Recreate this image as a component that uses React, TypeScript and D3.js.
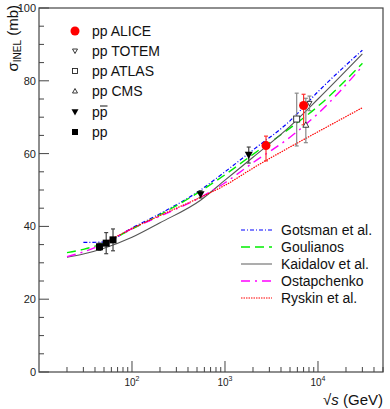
import React from "react";
import * as d3 from "d3";

// model curves: sqrt(s) in GeV, sigma_INEL in mb (null = curve not drawn there)
const modelEnergies = [20, 30, 50, 100, 200, 546, 1000, 2000, 5000, 10000, 30000];
const gotsman = [null, 35.6, 35.7, 39.6, 43.5, 50.0, 55.0, 61.0, 69.0, 77.0, 88.4];
const goulianos = [32.8, 33.7, 35.4, 39.3, 43.2, 49.7, 54.2, 59.8, 67.0, 73.0, 84.8];
const kaidalov = [31.5, 32.4, 34.0, 37.0, 41.0, 47.2, 52.7, 59.0, 67.5, 75.0, 87.4];
const ostapchenko = [31.7, 33.0, 35.3, 39.4, 42.8, 48.0, 52.0, 57.5, 64.5, 71.0, 84.0];
const ryskin = [null, null, 35.4, 39.4, 43.0, 48.0, 51.3, 56.0, 61.8, 66.0, 72.6];

// measurements
const aliceE = [2760, 7000];
const aliceS = [62.2, 73.2];
const aliceUp = [2.6, 3.1];
const aliceDn = [4.2, 5.3];

const totemE = [8100];
const totemS = [73.8];
const totemErr = [2.0];

const atlasE = [5900];
const atlasS = [69.5];
const atlasUp = [7.1];
const atlasDn = [7.4];

const cmsE = [7400];
const cmsS = [67.9];
const cmsUp = [7.3];
const cmsDn = [4.9];

const ppbarE = [546, 1800];
const ppbarS = [48.8, 59.6];
const ppbarErr = [1.0, 2.2];

const ppE = [44.7, 52.8, 62.5];
const ppS = [34.4, 35.4, 36.3];
const ppErr = [1.0, 2.9, 3.0];

const xTickLabels = [100, 1000, 10000];
const yTickLabels = [0, 20, 40, 60, 80, 100];

const FONT = "'Liberation Sans', Arial, Helvetica, sans-serif";

const frame = { left: 39, top: 8, right: 383, bottom: 372 };

const x = d3.scaleLog().domain([10, 5e4]).range([frame.left, frame.right]);
const y = d3.scaleLinear().domain([0, 100]).range([frame.bottom, frame.top]);

const models = [
  { name: "Gotsman et al.", values: gotsman, color: "#0000ff", dash: "4,2,1,2", width: 1.2 },
  { name: "Goulianos", values: goulianos, color: "#00ee00", dash: "9,5", width: 1.4 },
  { name: "Kaidalov et al.", values: kaidalov, color: "#555555", dash: null, width: 1.1 },
  { name: "Ostapchenko", values: ostapchenko, color: "#ff00ff", dash: "9,5,2,5", width: 1.4 },
  { name: "Ryskin et al.", values: ryskin, color: "#ff0000", dash: "1.5,1", width: 1.2 },
];

const Marker = ({ type, cx, cy, s }: { type: string; cx: number; cy: number; s: number }) => {
  const h = s / 2;
  if (type === "circle") return <circle cx={cx} cy={cy} r={h} fill="#ff0000" />;
  if (type === "square") return <rect x={cx - h} y={cy - h} width={s} height={s} fill="#000" />;
  if (type === "osquare")
    return <rect x={cx - h} y={cy - h} width={s} height={s} fill="#fff" stroke="#222" strokeWidth={0.9} />;
  if (type === "tridown")
    return <path d={`M${cx - h},${cy - h * 0.8}L${cx + h},${cy - h * 0.8}L${cx},${cy + h}Z`} fill="#000" />;
  if (type === "otridown")
    return (
      <path d={`M${cx - h},${cy - h * 0.8}L${cx + h},${cy - h * 0.8}L${cx},${cy + h}Z`} fill="#fff" stroke="#222" strokeWidth={0.9} />
    );
  if (type === "otriup")
    return (
      <path d={`M${cx - h},${cy + h * 0.8}L${cx + h},${cy + h * 0.8}L${cx},${cy - h}Z`} fill="#fff" stroke="#222" strokeWidth={0.9} />
    );
  return null;
};

const ErrorBar = ({ e, v, up, dn, color }: { e: number; v: number; up: number; dn: number; color: string }) => {
  const cx = x(e);
  const y1 = y(v + up);
  const y2 = y(v - dn);
  return (
    <g stroke={color} strokeWidth={1.2}>
      <line x1={cx} x2={cx} y1={y1} y2={y2} />
      <line x1={cx - 2} x2={cx + 2} y1={y1} y2={y1} />
      <line x1={cx - 2} x2={cx + 2} y1={y2} y2={y2} />
    </g>
  );
};

export default function App() {
  const line = (vals: (number | null)[]) =>
    d3
      .line<number>()
      .defined((_, i) => vals[i] !== null)
      .x((e) => x(e))
      .y((_, i) => y(vals[i] as number))
      .curve(d3.curveMonotoneX)(modelEnergies);

  // log axis ticks
  const minorX: number[] = [];
  for (let dec = 10; dec <= 1e4; dec *= 10) {
    for (let m = 1; m <= 9; m++) {
      const v = dec * m;
      if (v > 10 && v <= 5e4 && !xTickLabels.includes(v)) minorX.push(v);
    }
  }
  const minorY = d3.range(5, 100, 5).filter((v) => v % 20 !== 0);

  const legendData = [
    { label: "pp ALICE", type: "circle", s: 9 },
    { label: "pp TOTEM", type: "otridown", s: 5 },
    { label: "pp ATLAS", type: "osquare", s: 5 },
    { label: "pp CMS", type: "otriup", s: 5 },
    { label: "pp", type: "tridown", s: 7 },
    { label: "pp", type: "square", s: 6 },
  ];
  const legendY = [31, 51, 71, 91, 112, 132];

  return (
    <svg width={390} height={409} style={{ display: "block", position: "absolute", left: 0, top: 0 }} fontFamily={FONT}>
      <rect width={390} height={409} fill="#fff" />

      {/* model curves */}
      {models.map((m) => (
        <path
          key={m.name}
          d={line(m.values) || ""}
          fill="none"
          stroke={m.color}
          strokeWidth={m.width}
          strokeDasharray={m.dash || undefined}
        />
      ))}

      {/* error bars */}
      {ppE.map((e, i) => (
        <ErrorBar key={"pp" + i} e={e} v={ppS[i]} up={ppErr[i]} dn={ppErr[i]} color="#444" />
      ))}
      {ppbarE.map((e, i) => (
        <ErrorBar key={"pb" + i} e={e} v={ppbarS[i]} up={ppbarErr[i]} dn={ppbarErr[i]} color="#444" />
      ))}
      {atlasE.map((e, i) => (
        <ErrorBar key={"at" + i} e={e} v={atlasS[i]} up={atlasUp[i]} dn={atlasDn[i]} color="#888" />
      ))}
      {cmsE.map((e, i) => (
        <ErrorBar key={"cm" + i} e={e} v={cmsS[i]} up={cmsUp[i]} dn={cmsDn[i]} color="#888" />
      ))}
      {totemE.map((e, i) => (
        <ErrorBar key={"to" + i} e={e} v={totemS[i]} up={totemErr[i]} dn={totemErr[i]} color="#888" />
      ))}
      {aliceE.map((e, i) => (
        <ErrorBar key={"al" + i} e={e} v={aliceS[i]} up={aliceUp[i]} dn={aliceDn[i]} color="#ff3030" />
      ))}

      {/* markers */}
      {ppE.map((e, i) => (
        <Marker key={"mpp" + i} type="square" cx={x(e)} cy={y(ppS[i])} s={7} />
      ))}
      {ppbarE.map((e, i) => (
        <Marker key={"mpb" + i} type="tridown" cx={x(e)} cy={y(ppbarS[i])} s={8} />
      ))}
      {atlasE.map((e, i) => (
        <Marker key={"mat" + i} type="osquare" cx={x(e)} cy={y(atlasS[i])} s={6} />
      ))}
      {cmsE.map((e, i) => (
        <Marker key={"mcm" + i} type="otriup" cx={x(e)} cy={y(cmsS[i])} s={6} />
      ))}
      {totemE.map((e, i) => (
        <Marker key={"mto" + i} type="otridown" cx={x(e)} cy={y(totemS[i])} s={5} />
      ))}
      {aliceE.map((e, i) => (
        <Marker key={"mal" + i} type="circle" cx={x(e)} cy={y(aliceS[i])} s={9} />
      ))}

      {/* frame */}
      <rect
        x={frame.left}
        y={frame.top}
        width={frame.right - frame.left}
        height={frame.bottom - frame.top}
        fill="none"
        stroke="#444"
        strokeWidth={1.2}
      />

      {/* ticks */}
      <g stroke="#444" strokeWidth={1}>
        {minorX.map((v) => (
          <line key={"mx" + v} x1={x(v)} x2={x(v)} y1={frame.bottom} y2={frame.bottom - 5} />
        ))}
        {xTickLabels.map((v) => (
          <line key={"Mx" + v} x1={x(v)} x2={x(v)} y1={frame.bottom} y2={frame.bottom - 11} />
        ))}
        {minorY.map((v) => (
          <line key={"my" + v} x1={frame.left} x2={frame.left + 5} y1={y(v)} y2={y(v)} />
        ))}
        {yTickLabels.map((v) => (
          <line key={"My" + v} x1={frame.left} x2={frame.left + 10} y1={y(v)} y2={y(v)} />
        ))}
      </g>

      {/* tick labels */}
      <g fontSize={11} fill="#222">
        {yTickLabels.map((v) => (
          <text key={"ly" + v} x={frame.left - 3} y={y(v)} dy="0.36em" textAnchor="end">
            {v}
          </text>
        ))}
        {xTickLabels.map((v) => (
          <text key={"lx" + v} x={x(v)} y={386} textAnchor="middle" fontSize={10}>
            10
            <tspan fontSize={7} dy={-5}>
              {Math.round(Math.log10(v))}
            </tspan>
          </text>
        ))}
      </g>

      {/* axis titles */}
      <text transform="translate(18,5) rotate(-90)" textAnchor="end" fontSize={15} fill="#111">
        σ
        <tspan fontSize={10} dy={3}>
          INEL
        </tspan>
        <tspan dy={-3}> (mb)</tspan>
      </text>
      <text x={frame.right} y={405} textAnchor="end" fontSize={15} fill="#111">
        √<tspan fontStyle="italic">s</tspan> (GeV)
      </text>

      {/* data legend */}
      {legendData.map((d, i) => (
        <g key={d.label + i}>
          <Marker type={d.type} cx={75} cy={legendY[i]} s={d.s} />
          <text x={92} y={legendY[i]} dy="0.36em" fontSize={14} fill="#111">
            {d.label}
          </text>
        </g>
      ))}
      {/* overline of the antiproton */}
      <line x1={100} x2={107.5} y1={106} y2={106} stroke="#111" strokeWidth={1} />

      {/* model legend */}
      {models.map((m, i) => {
        const ly = 230 + i * 17;
        return (
          <g key={"lg" + m.name}>
            <line
              x1={241}
              x2={272}
              y1={ly}
              y2={ly}
              stroke={m.name === "Kaidalov et al." ? "#999" : m.color}
              strokeWidth={m.name === "Kaidalov et al." ? 1.6 : m.width}
              strokeDasharray={m.dash || undefined}
            />
            <text x={281} y={ly} dy="0.36em" fontSize={14} fill="#111">
              {m.name}
            </text>
          </g>
        );
      })}
    </svg>
  );
}
